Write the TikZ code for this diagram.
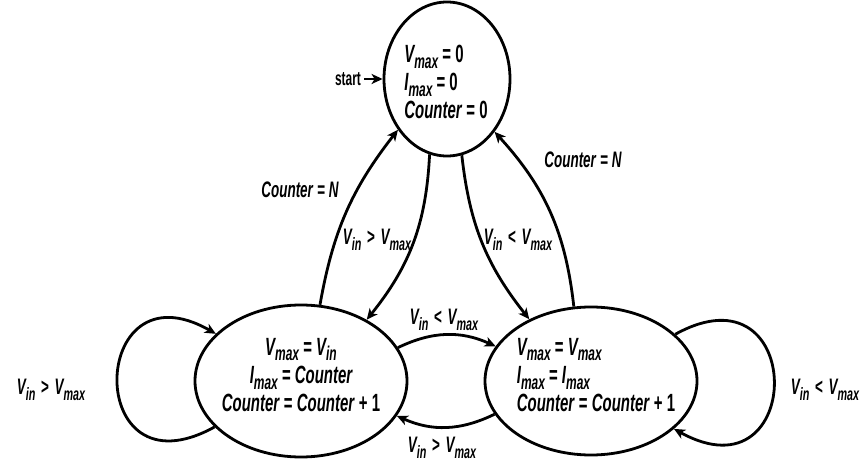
\documentclass[tikz,border=0pt]{standalone}
\usepackage{fontspec}
\usepackage{graphicx}
\setmainfont{Liberation Sans}[FakeStretch=0.6]
\usetikzlibrary{shapes.geometric,arrows.meta}
% italic subscript, slightly smaller and lowered
\newcommand\sub[1]{\raisebox{-0.45ex}{\scalebox{0.8}{\itshape #1}}}
\newcommand\vv[2]{\textit{#1}\sub{#2}}
\newcommand\rel[1]{\hspace{0.25em}\textup{#1}\hspace{0.25em}}
\newcommand\eq{ \textup{=} }
\begin{document}
\begin{tikzpicture}[x=1bp,y=-1bp,
  state/.style={draw, ellipse, line width=2.8bp, inner sep=0pt},
  txt/.style={font=\fontsize{25}{28.5}\selectfont\bfseries\itshape, inner sep=0pt},
  lbl/.style={font=\fontsize{22.5}{26}\selectfont\bfseries\itshape, inner sep=0pt},
  edge/.style={-{Stealth[length=11bp,width=10bp,inset=3bp]}, line width=2.8bp}]
\useasboundingbox (0,0) rectangle (868,463);

% states
\node[state, minimum width=126bp, minimum height=154bp] (T) at (447,79) {};
\node[state, minimum width=212bp, minimum height=152bp] (L) at (301,381) {};
\node[state, minimum width=212bp, minimum height=148bp] (R) at (591,381) {};

% state contents
\node[txt, align=left] (Tt) at (446,82) {\vv{V}{max}\eq\textup{0}\\\vv{I}{max}\eq\textup{0}\\Counter\eq\textup{0}};
\node[txt, align=center] (Lt) at (301,375) {\vv{V}{max}\eq\vv{V}{in}\\\vv{I}{max}\eq Counter\\Counter\eq Counter \textup{+ 1}};
\node[txt, align=left] (Rt) at (596,375) {\vv{V}{max}\eq\vv{V}{max}\\\vv{I}{max}\eq\vv{I}{max}\\Counter\eq Counter \textup{+ 1}};

% initial arrow
\node[font=\fontsize{20}{24}\selectfont\bfseries, inner sep=0pt] (st) at (348,79) {start};
\draw[edge] (st.east) ++(3,0) coordinate (st0) (st0) -- (T.180);

% transitions between states
\draw[edge] (T.257.7) to[bend left=18] (L.43.7);
\draw[edge] (L.76) to[bend left=14] (T.226);
\draw[edge] (T.281.6) to[bend right=16] (R.135);
\draw[edge] (R.103.3) to[bend right=18] (T.312.4);
\draw[edge] (L.19.3) to[bend left=25] (R.160.1);
\draw[edge] (R.199.9) to[bend left=25] (L.-20.4);

% self loops
\draw[edge] (L.208.7) .. controls +(-132,73) and +(-128,-73) .. (L.151.4);
\draw[edge] (R.29.7) .. controls +(132,-73) and +(132,73) .. (R.-30.7);

% transition labels
\node[lbl] (cL) at (300,190) {Counter\eq\textit{N}};
\node[lbl] (cR) at (583,160) {Counter\eq\textit{N}};
\node[lbl] (gTL) at (377,240) {\vv{V}{in}\rel{>}\vv{V}{max}};
\node[lbl] (gTR) at (518,240) {\vv{V}{in}\rel{<}\vv{V}{max}};
\node[lbl] (gLR) at (444,320) {\vv{V}{in}\rel{<}\vv{V}{max}};
\node[lbl] (gRL) at (442,448) {\vv{V}{in}\rel{>}\vv{V}{max}};
\node[lbl] (gLL) at (51,390) {\vv{V}{in}\rel{>}\vv{V}{max}};
\node[lbl] (gRR) at (825,390) {\vv{V}{in}\rel{<}\vv{V}{max}};
\end{tikzpicture}
\end{document}
